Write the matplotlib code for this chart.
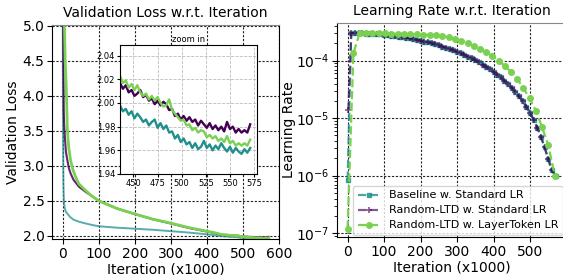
import numpy as np
import matplotlib
matplotlib.use("Agg")
import matplotlib.pyplot as plt

# colours (viridis picks)
C_BASE = "#21908d"
C_RLTD = "#440154"
C_LT = "#7ad151"

labels = ["Baseline w. Standard LR", "Random-LTD w. Standard LR", "Random-LTD w. LayerToken LR"]

# ---- validation loss, early part (iteration in thousands) ----
base_it = [0, 1, 2, 3, 4, 6, 9, 14, 20, 30, 45, 60, 80, 100, 150, 200, 250, 300, 350, 400, 420]
base_loss = [6.0, 3.4, 2.75, 2.55, 2.46, 2.39, 2.34, 2.31, 2.27, 2.23, 2.20, 2.18, 2.155, 2.135,
             2.115, 2.10, 2.085, 2.065, 2.045, 2.02, 2.008]

rltd_it = [0, 1, 2, 3, 4, 6, 9, 13, 17, 22, 30, 45, 63, 80, 100, 150, 200, 250, 300, 350, 400, 420]
rltd_loss = [8.0, 5.5, 4.4, 3.8, 3.6, 3.42, 3.2, 3.08, 2.97, 2.89, 2.80, 2.70, 2.63, 2.57, 2.50,
             2.39, 2.31, 2.235, 2.175, 2.11, 2.06, 2.04]

lt_it = [3, 5, 7, 10, 13, 17, 22, 28, 36, 45, 63, 80, 100, 117, 150, 200, 250, 300, 350, 400, 420]
lt_loss = [6.0, 5.0, 4.5, 4.13, 3.51, 3.25, 3.08, 2.95, 2.84, 2.74, 2.65, 2.57, 2.50, 2.46,
           2.39, 2.31, 2.237, 2.18, 2.116, 2.065, 2.045]

# ---- validation loss, tail (the zoomed region) ----
tail_it = list(range(436, 572, 3))
base_tail = [1.998, 1.993, 1.995, 1.990, 1.993, 1.987, 1.991, 1.988, 1.984, 1.986, 1.981, 1.984,
             1.986, 1.979, 1.983, 1.978, 1.981, 1.975, 1.976, 1.970, 1.973, 1.967, 1.970, 1.965,
             1.967, 1.962, 1.966, 1.961, 1.963, 1.968, 1.962, 1.965, 1.960, 1.964, 1.961, 1.966,
             1.962, 1.959, 1.963, 1.958, 1.962, 1.959, 1.957, 1.961, 1.958, 1.962]
rltd_tail = [2.017, 2.012, 2.015, 2.009, 2.011, 2.006, 2.008, 2.011, 2.005, 2.007, 2.002, 2.004,
             1.999, 2.002, 1.998, 2.001, 1.999, 1.994, 1.995, 1.989, 1.991, 1.986, 1.989, 1.985,
             1.988, 1.984, 1.986, 1.981, 1.985, 1.982, 1.979, 1.983, 1.978, 1.981, 1.977, 1.980,
             1.976, 1.984, 1.978, 1.980, 1.975, 1.978, 1.975, 1.977, 1.975, 1.982]
lt_tail = [2.023, 2.017, 2.019, 2.013, 2.016, 2.011, 2.015, 2.009, 2.006, 2.008, 2.003, 2.006,
           2.002, 2.005, 2.000, 1.997, 1.998, 2.003, 1.994, 1.991, 1.988, 1.985, 1.986, 1.981,
           1.982, 1.977, 1.979, 1.975, 1.977, 1.976, 1.971, 1.973, 1.970, 1.972, 1.968, 1.970,
           1.967, 1.972, 1.966, 1.968, 1.964, 1.966, 1.964, 1.966, 1.964, 1.969]

# ---- learning rate ----
std_lr_it = list(range(10, 571, 10))
std_lr = [3.00e-4, 3.00e-4, 2.99e-4, 2.98e-4, 2.96e-4, 2.94e-4, 2.92e-4, 2.89e-4, 2.85e-4, 2.81e-4,
          2.77e-4, 2.72e-4, 2.67e-4, 2.62e-4, 2.56e-4, 2.50e-4, 2.44e-4, 2.37e-4, 2.30e-4, 2.23e-4,
          2.15e-4, 2.08e-4, 2.00e-4, 1.92e-4, 1.84e-4, 1.76e-4, 1.67e-4, 1.59e-4, 1.51e-4, 1.42e-4,
          1.34e-4, 1.26e-4, 1.17e-4, 1.09e-4, 1.01e-4, 9.33e-5, 8.56e-5, 7.82e-5, 7.10e-5, 6.40e-5,
          5.73e-5, 5.09e-5, 4.48e-5, 3.90e-5, 3.36e-5, 2.86e-5, 2.39e-5, 1.97e-5, 1.58e-5, 1.24e-5,
          9.39e-6, 6.84e-6, 4.75e-6, 3.11e-6, 1.94e-6, 1.24e-6, 1.00e-6]
base_lr_start = (0, 8.5e-7)
rltd_lr_start = (2, 1.4e-5)

lt_lr_it = [0, 16, 33, 50, 68, 85, 102, 120, 137, 155, 172, 190, 207, 225, 242, 260, 277, 294,
            311, 329, 346, 363, 380, 397, 414, 431, 448, 465, 482, 499, 516, 533, 550, 568]
lt_lr = [1.2e-7, 1.35e-4, 3.0e-4, 3.0e-4, 2.99e-4, 2.98e-4, 2.97e-4, 2.96e-4, 2.94e-4, 2.92e-4,
         2.89e-4, 2.86e-4, 2.83e-4, 2.79e-4, 2.74e-4, 2.66e-4, 2.53e-4, 2.38e-4, 2.20e-4, 2.00e-4,
         1.82e-4, 1.60e-4, 1.40e-4, 1.20e-4, 1.00e-4, 8.1e-5, 6.4e-5, 4.8e-5, 3.3e-5, 2.2e-5,
         1.35e-5, 7.0e-6, 3.4e-6, 1.0e-6]

grid_kw = dict(linestyle=(0, (2, 1.5)), color="#222222", lw=0.8)

fig = plt.figure(figsize=(5.63, 2.75), dpi=100)
ax1 = fig.add_axes([0.0924, 0.1309, 0.4032, 0.778])
ax2 = fig.add_axes([0.5986, 0.1382, 0.4076, 0.778])

# --- left: validation loss ---
ax1.plot(base_it + tail_it, base_loss + base_tail, color=C_BASE, lw=1.4, alpha=0.75)
ax1.plot(rltd_it + tail_it, rltd_loss + rltd_tail, color=C_RLTD, lw=1.5, alpha=0.85)
ax1.plot(lt_it + tail_it, lt_loss + lt_tail, color=C_LT, lw=2.0)
ax1.set_xlim(-29.5, 600)
ax1.set_ylim(1.953, 5.01)
ax1.set_xticks([0, 100, 200, 300, 400, 500, 600])
ax1.set_yticks([2.0, 2.5, 3.0, 3.5, 4.0, 4.5, 5.0])
ax1.grid(True, **grid_kw)
ax1.set_title("Validation Loss w.r.t. Iteration", fontsize=10)
ax1.set_xlabel("Iteration (x1000)", fontsize=10, labelpad=1)
ax1.set_ylabel("Validation Loss", fontsize=10, labelpad=2)
ax1.tick_params(labelsize=10, pad=2)
ax1.spines["top"].set_color("#888888")

# inset
axin = fig.add_axes([0.2131, 0.3673, 0.2433, 0.469])
axin.plot(tail_it, base_tail, color=C_BASE, lw=1.7)
axin.plot(tail_it, rltd_tail, color=C_RLTD, lw=1.7)
axin.plot(tail_it, lt_tail, color=C_LT, lw=1.7)
axin.set_xlim(436, 578)
axin.set_ylim(1.94, 2.049)
axin.set_xticks([450, 475, 500, 525, 550, 575])
axin.set_yticks([1.94, 1.96, 1.98, 2.00, 2.02, 2.04])
axin.yaxis.set_major_formatter(matplotlib.ticker.FormatStrFormatter("%.2f"))
axin.tick_params(labelsize=6, pad=1.5, length=2)
axin.grid(True, linestyle="--", color="#bbbbbb", lw=0.6)
axin.set_title("zoom in", fontsize=6, pad=2)

# --- right: learning rate ---
ax2.plot([base_lr_start[0]] + std_lr_it, [base_lr_start[1]] + std_lr, color=C_BASE, ls="--",
         marker="s", ms=3, lw=1.6, alpha=0.8, label=labels[0])
ax2.plot([rltd_lr_start[0]] + std_lr_it, [rltd_lr_start[1]] + std_lr, color=C_RLTD, ls="--",
         marker="+", ms=4, mew=1.2, lw=1.6, alpha=0.65, label=labels[1])
ax2.plot(lt_lr_it, lt_lr, color=C_LT, ls="--", marker="o", ms=4, lw=1.6, label=labels[2])
ax2.set_yscale("log")
ax2.set_xlim(-29, 600)
ax2.set_ylim(8.6e-8, 4.5e-4)
ax2.set_xticks([0, 100, 200, 300, 400, 500])
ax2.grid(True, **grid_kw)
ax2.set_title("Learning Rate w.r.t. Iteration", fontsize=10)
ax2.set_xlabel("Iteration (x1000)", fontsize=10, labelpad=1)
ax2.set_ylabel("Learning Rate", fontsize=10, labelpad=0)
ax2.tick_params(labelsize=10, pad=2)
ax2.spines["top"].set_color("#888888")
ax2.legend(loc="lower left", fontsize=8, borderaxespad=0, handlelength=2.0,
           labelspacing=0.45, bbox_to_anchor=(0.07, 0.01))

fig.savefig("out.png", dpi=100)
